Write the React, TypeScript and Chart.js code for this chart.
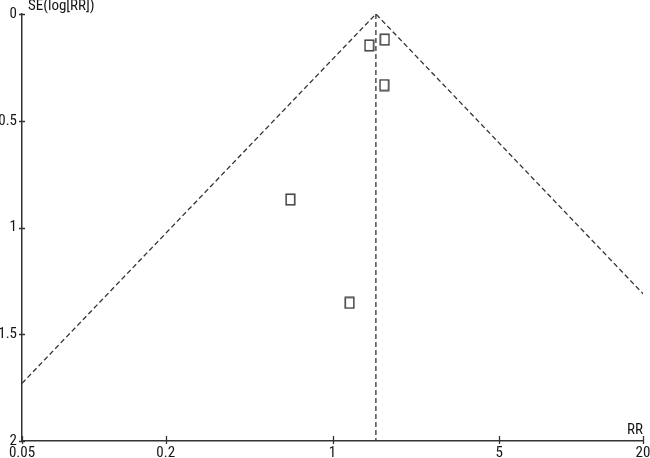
import React, { useEffect, useRef } from "react";
import { Chart, registerables } from "chart.js";

Chart.register(...registerables);

// ---- data ----
const xTickValues = [0.05, 0.2, 1, 5, 20];
const xTickLabels = ["0.05", "0.2", "1", "5", "20"];
const yTickValues = [0, 0.5, 1, 1.5, 2];
const yTickLabels = ["0", "0.5", "1", "1.5", "2"];

const studyRR = [1.425, 1.656, 1.647, 0.666, 1.179];
const studySE = [0.147, 0.12, 0.333, 0.869, 1.353];

const funnelRR = [0.05, 1.52, 20];
const funnelSE = [1.73, 0, 1.31];
const pooledRR = [1.52, 1.52];
const pooledSE = [0, 2];

const xTitle = "RR";
const yTitle = "SE(log[RR])";

const FONT = '"Roboto Condensed", "Liberation Sans", Arial, sans-serif';
const INK = "#333333";
const TEXT = "#151515";

function makeBox(): HTMLCanvasElement {
  const c = document.createElement("canvas");
  c.width = 11;
  c.height = 13;
  const g = c.getContext("2d")!;
  g.fillStyle = "#ffffff";
  g.fillRect(1, 1, 9, 11);
  g.strokeStyle = INK;
  g.lineWidth = 1.4;
  g.strokeRect(1.2, 1.2, 8.6, 10.6);
  return c;
}

const crossTicks = {
  id: "crossTicks",
  afterDraw(chart: any) {
    const ctx = chart.ctx;
    const xs = chart.scales.x;
    const ys = chart.scales.y;
    const { left, bottom, top } = chart.chartArea;
    ctx.save();
    ctx.strokeStyle = INK;
    ctx.lineWidth = 1.3;
    ctx.beginPath();
    xTickValues.forEach((v) => {
      const px = Math.round(xs.getPixelForValue(v)) + 0.5;
      ctx.moveTo(px, bottom - 5);
      ctx.lineTo(px, bottom + 3);
    });
    yTickValues.forEach((v) => {
      const py = Math.round(ys.getPixelForValue(v)) + 0.5;
      ctx.moveTo(left - 3, py);
      ctx.lineTo(left + 3, py);
    });
    ctx.stroke();
    ctx.fillStyle = TEXT;
    ctx.font = "15px " + FONT;
    ctx.textBaseline = "top";
    ctx.textAlign = "left";
    ctx.fillText(yTitle, left + 6, top - 15);
    ctx.textAlign = "right";
    ctx.textBaseline = "bottom";
    ctx.fillText(xTitle, chart.chartArea.right, bottom - 3);
    ctx.restore();
  },
};

export default function App() {
  const ref = useRef<HTMLCanvasElement | null>(null);

  useEffect(() => {
    if (!ref.current) return;
    const box = makeBox();
    const chart = new Chart(ref.current, {
      type: "scatter",
      data: {
        datasets: [
          {
            label: "Studies",
            data: studyRR.map((x, i) => ({ x, y: studySE[i] })),
            pointStyle: box as any,
            pointRadius: 6,
            showLine: false,
            order: 0,
          },
          {
            label: "Funnel",
            data: funnelRR.map((x, i) => ({ x, y: funnelSE[i] })),
            showLine: true,
            borderColor: INK,
            borderWidth: 1.3,
            borderDash: [5, 3],
            pointRadius: 0,
            fill: false,
            order: 1,
          },
          {
            label: "Pooled",
            data: pooledRR.map((x, i) => ({ x, y: pooledSE[i] })),
            showLine: true,
            borderColor: INK,
            borderWidth: 1.3,
            borderDash: [5, 3],
            pointRadius: 0,
            fill: false,
            order: 2,
          },
        ],
      },
      options: {
        animation: false,
        responsive: false,
        devicePixelRatio: 1,
        layout: { padding: { left: 0, right: 6, top: 14, bottom: 0 } },
        plugins: {
          legend: { display: false },
          tooltip: { enabled: false },
        },
        scales: {
          x: {
            type: "logarithmic",
            min: 0.05,
            max: 20,
            afterBuildTicks: (s: any) => {
              s.ticks = xTickValues.map((v) => ({ value: v }));
            },
            afterFit: (s: any) => {
              s.height = 17;
              s.paddingLeft = 0;
              s.paddingRight = 0;
            },
            ticks: {
              autoSkip: false,
              maxRotation: 0,
              padding: 3,
              color: TEXT,
              font: { family: FONT, size: 15 },
              callback: (v: any) => {
                const i = xTickValues.findIndex((t) => Math.abs(t - Number(v)) < 1e-9);
                return i >= 0 ? xTickLabels[i] : "";
              },
            },
            grid: { display: true, drawOnChartArea: false, drawTicks: false },
            border: { display: true, color: INK, width: 1.5 },
          },
          y: {
            type: "linear",
            reverse: true,
            min: 0,
            max: 2,
            afterBuildTicks: (s: any) => {
              s.ticks = yTickValues.map((v) => ({ value: v }));
            },
            afterFit: (s: any) => {
              s.width = 22;
              s.paddingTop = 0;
              s.paddingBottom = 0;
            },
            ticks: {
              autoSkip: false,
              padding: 5,
              color: TEXT,
              font: { family: FONT, size: 15 },
              callback: (v: any) => {
                const i = yTickValues.findIndex((t) => Math.abs(t - Number(v)) < 1e-9);
                return i >= 0 ? yTickLabels[i] : "";
              },
            },
            grid: { display: true, drawOnChartArea: false, drawTicks: false },
            border: { display: true, color: INK, width: 1.5 },
          },
        },
      },
      plugins: [crossTicks],
    });
    return () => chart.destroy();
  }, []);

  return (
    <div style={{ position: "fixed", left: 0, top: 0, width: 650, height: 458, background: "#fff" }}>
      <canvas ref={ref} width={650} height={458} />
    </div>
  );
}
